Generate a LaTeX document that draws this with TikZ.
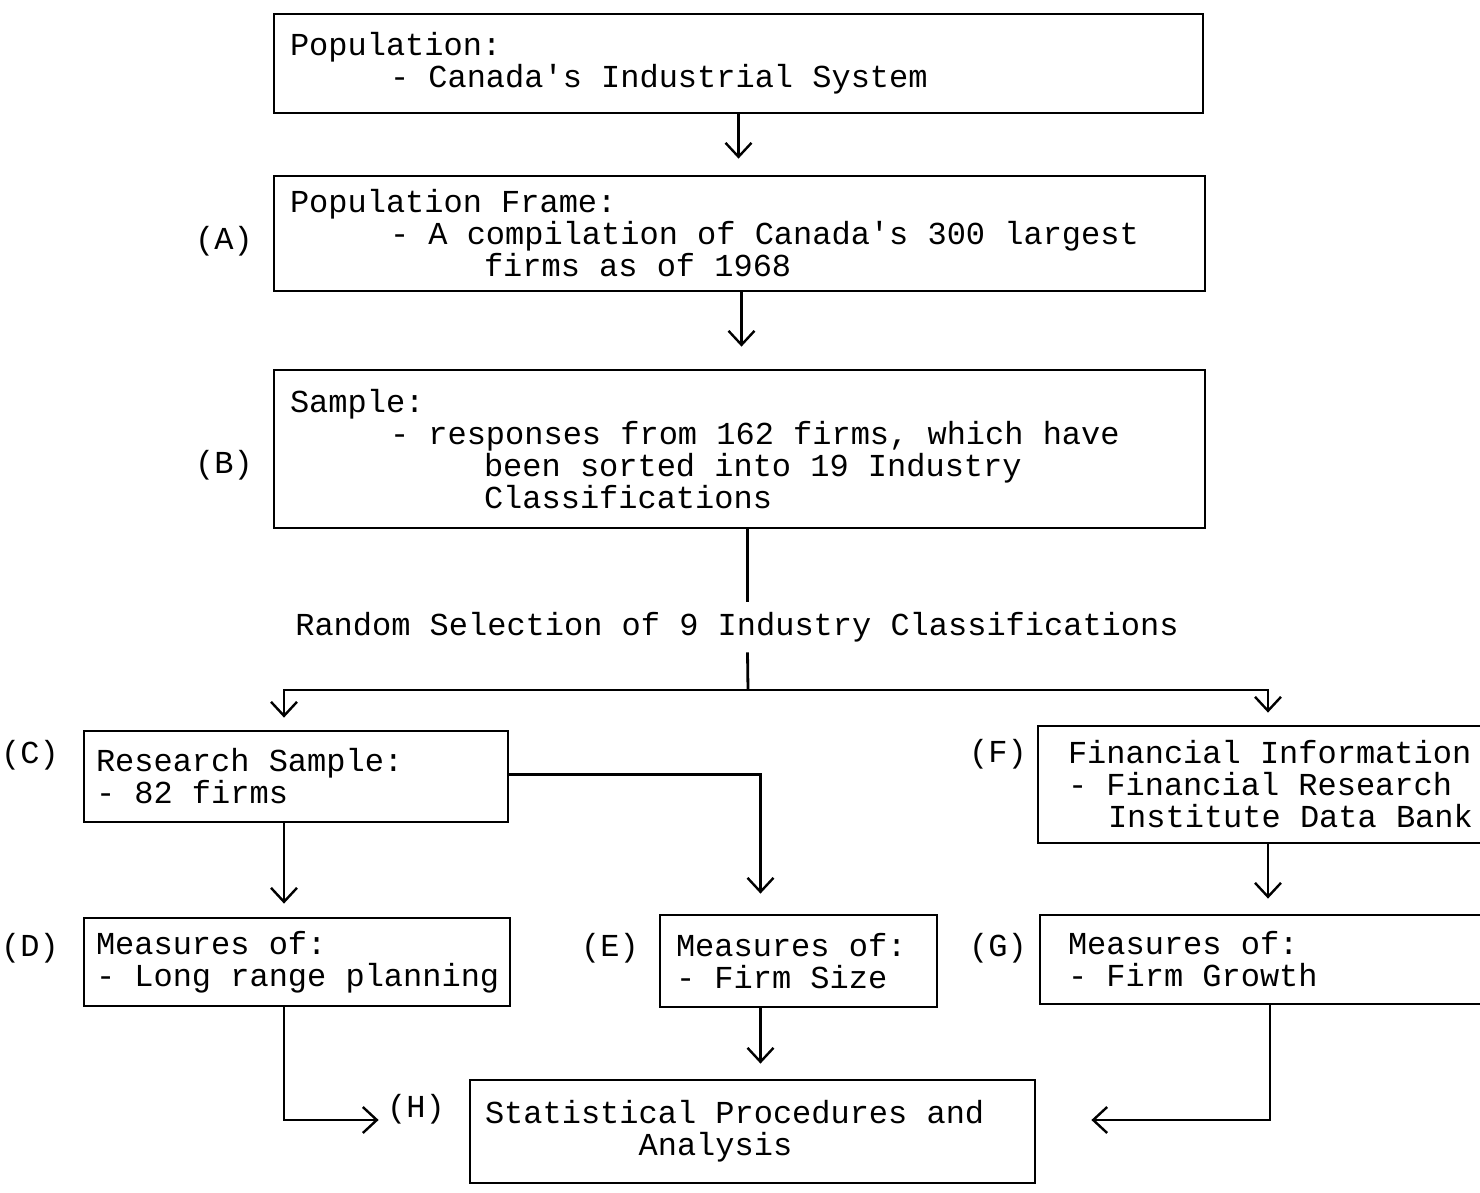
\documentclass[tikz,border=0pt]{standalone}
\usepackage{fontspec}
\setmonofont{Liberation Mono}
\usepackage{tikz}
\usetikzlibrary{arrows.meta}

\begin{document}
\begin{tikzpicture}[x=0.5pt,y=-0.5pt,
    font=\ttfamily\fontsize{16}{16}\selectfont,
    box/.style={draw, line width=1.4pt, align=left, inner xsep=8pt, inner ysep=0pt,
      execute at begin node={\spaceskip=0pt\relax\xspaceskip=0pt\relax}},
    lbl/.style={inner sep=0pt},
    arr/.style={line width=1.4pt, -{Straight Barb[length=7pt,width=13pt,line width=1.2pt]}},
    link/.style={line width=1.4pt}]
  \useasboundingbox (0,0) rectangle (1480,1193);
  \clip (0,0) rectangle (1480,1193);
  % top column
  \node[box, text width=448.5pt, minimum height=49.5pt] (pop) at (738.5,63.5)
    {Population:\\\hspace*{50pt}- Canada's Industrial System};
  \node[box, text width=449.5pt, minimum height=57.5pt] (frame) at (739.5,233.5)
    {Population Frame:\\\hspace*{50pt}- A compilation of Canada's 300 largest\\\hspace*{97pt}firms as of 1968};
  \node[box, text width=449.5pt, minimum height=79pt] (sample) at (739.5,449)
    {Sample:\\\hspace*{50pt}- responses from 162 firms, which have\\\hspace*{97pt}been sorted into 19 Industry\\\hspace*{97pt}Classifications};
  \node[inner xsep=0pt, inner ysep=5pt] (sel) at (737,627) {Random Selection of 9 Industry Classifications};
  \coordinate (split) at (748,690);
  % lower boxes
  \node[box, inner xsep=6pt, text width=200pt, minimum height=45.5pt] (C) at (296,776.5)
    {Research Sample:\\- 82 firms};
  \node[box, inner xsep=6pt, text width=201pt, minimum height=44pt] (D) at (297,962)
    {Measures of:\\\mbox{- Long range planning}};
  \node[box, text width=122.5pt, minimum height=46pt] (E) at (798.5,961)
    {Measures of:\\- Firm Size};
  \node[box, inner xsep=15pt, text width=206pt, minimum height=58.5pt] (F) at (1274,784.5)
    {Financial Information\\- Financial Research\\\hspace*{20pt}Institute Data Bank};
  \node[box, inner xsep=14pt, text width=207pt, minimum height=44.5pt] (G) at (1275,959.5)
    {Measures of:\\- Firm Growth};
  \node[box, inner xsep=7.5pt, text width=267.5pt, minimum height=51.5pt] (H) at (752.5,1131.5)
    {Statistical Procedures and\\\hspace*{76.8pt}Analysis};
  % labels
  \node[lbl] (la) at (224,241) {(A)};
  \node[lbl] (lb) at (224,465) {(B)};
  \node[lbl] (lc) at (30,755) {(C)};
  \node[lbl] (ld) at (30,948) {(D)};
  \node[lbl] (le) at (610,948) {(E)};
  \node[lbl] (lf) at (998,754) {(F)};
  \node[lbl] (lg) at (998,948) {(G)};
  \node[lbl] (lh) at (416,1109) {(H)};
  % connectors
  \draw[arr, shorten >=8pt] (pop.south) -- (pop.south |- frame.north);
  \draw[arr, shorten >=11pt] ([xshift=1pt]frame.south) -- ([xshift=1pt]frame.south |- sample.north);
  \draw[link] ([xshift=4pt]sample.south) -- ([xshift=4pt]sample.south |- sel.north);
  \draw[link] ([xshift=4pt]sample.south |- sel.south) -- (split);
  \draw[arr, shorten >=6pt] (split) -| ([xshift=-6pt]C.north);
  \draw[arr, shorten >=6pt] (split) -| ([xshift=-3pt]F.north);
  \draw[arr, shorten >=10pt] ([yshift=1pt]C.east) -| ([xshift=-19pt]E.north);
  \draw[arr, shorten >=6.5pt] ([xshift=-6pt]C.south) -- ([xshift=-6pt]C.south |- D.north);
  \draw[arr, shorten >=7.5pt] ([xshift=-3pt]F.south) -- ([xshift=-3pt]F.south |- G.north);
  \draw[arr, shorten >=45pt] ([xshift=-6.5pt]D.south) |- ([yshift=5.75pt]H.west);
  \draw[arr, shorten >=7.5pt] ([xshift=-19pt]E.south) -- ([xshift=-19pt]E.south |- H.north);
  \draw[arr, shorten >=27.5pt] ([xshift=-2.5pt]G.south) |- ([yshift=5.75pt]H.east);
\end{tikzpicture}
\end{document}
